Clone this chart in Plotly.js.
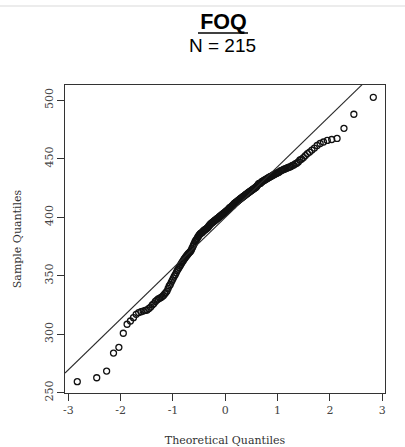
<!DOCTYPE html>
<html>
<head>
<meta charset="utf-8">
<script src="https://cdn.plot.ly/plotly-3.0.1.min.js"></script>
<style>
  html, body { margin: 0; padding: 0; background: #ffffff; }
  #topline { position: absolute; left: 0; top: 5px; width: 405px; height: 2px; background: #ececec; }
  #chart { position: absolute; left: 0; top: 0; width: 405px; height: 447px; }
</style>
</head>
<body>
<div id="chart"></div>
<div id="topline"></div>
<script>
// ---- data ----
const chartTitle = 'FOQ';
const subTitle = 'N = 215';
const xAxisTitle = 'Theoretical Quantiles';
const yAxisTitle = 'Sample Quantiles';
const xTickVals = [-3, -2, -1, 0, 1, 2, 3];
const yTickVals = [250, 300, 350, 400, 450, 500];

const sampleQuantiles = [
  259.4, 262.8, 268.5, 283.9, 288.8, 300.8, 308.5, 311.3, 314.1, 317.0,
  318.5, 319.2, 319.8, 320.3, 320.7, 322.0, 323.2, 325.0, 326.2, 328.0,
  329.2, 330.1, 330.7, 331.4, 332.2, 333.1, 334.4, 335.6, 336.9, 339.1,
  341.2, 342.5, 344.6, 346.3, 348.0, 349.7, 351.0, 352.7, 354.4, 355.7,
  357.0, 358.3, 359.6, 360.9, 362.1, 363.0, 364.3,
  365.2, 366.2, 367.1, 368.0, 368.8, 369.6, 370.2, 370.8, 372.0, 373.5, 374.8, 376.3, 377.6,
  379.2, 380.1, 380.9, 381.8, 383.1, 383.9, 384.8, 385.6, 386.1, 386.5,
  386.9, 387.4, 388.2, 388.6, 389.1, 389.5, 389.9, 390.3, 390.8, 391.2,
  392.0, 392.9, 393.3, 394.2, 394.6, 395.0, 395.5, 395.9, 396.3, 396.8,
  397.2, 397.6, 398.0, 398.5, 398.9, 399.3, 399.7, 400.2, 400.6, 401.0,
  401.5, 401.9, 402.3, 402.7, 403.2, 403.6, 404.0, 404.4, 404.9, 405.3,
  405.7, 406.2, 406.6, 407.4, 407.9, 408.3, 408.7, 409.1, 409.6, 410.0,
  410.4, 411.3, 411.7, 412.1, 412.6, 413.0, 413.4, 413.8, 414.3, 414.7,
  415.1, 415.6, 416.0, 416.4, 416.8, 417.3, 417.7, 418.1, 418.5, 419.0,
  419.4, 419.8, 420.3, 420.7, 421.1, 421.5, 422.0, 422.4, 422.8, 423.2,
  423.7, 424.1, 424.5, 425.0, 425.4, 425.8, 426.7, 427.5, 428.4, 428.8,
  428.9, 429.2, 430.1, 430.5, 430.9, 431.4, 431.8, 432.2, 432.6, 433.1,
  433.5, 433.9, 434.4, 434.8, 435.2, 435.6, 436.1, 436.5, 436.9, 437.4,
  437.8, 438.2, 438.6, 439.5, 439.9, 440.3, 440.8, 441.2, 441.6, 442.1,
  442.5, 442.9, 443.3, 444.2, 444.6, 445.5, 446.1, 447.2, 448.9, 449.7,
  451.0, 452.7, 454.4, 455.7, 457.4, 459.1, 461.3, 463.0, 464.3, 465.6,
  466.4, 467.3, 476.0, 488.0, 502.5
];

// ---- normal quantile function (Acklam) ----
function qnorm(p) {
  const a = [-3.969683028665376e+01, 2.209460984245205e+02, -2.759285104469687e+02, 1.383577518672690e+02, -3.066479806614716e+01, 2.506628277459239e+00];
  const b = [-5.447609879822406e+01, 1.615858368580409e+02, -1.556989798598866e+02, 6.680131188771972e+01, -1.328068155288572e+01];
  const c = [-7.784894002430293e-03, -3.223964580411365e-01, -2.400758277161838e+00, -2.549732539343734e+00, 4.374664141464968e+00, 2.938163982698783e+00];
  const d = [7.784695709041462e-03, 3.224671290700398e-01, 2.445134137142996e+00, 3.754408661907416e+00];
  const pl = 0.02425, ph = 1 - pl;
  let q, r;
  if (p < pl) {
    q = Math.sqrt(-2 * Math.log(p));
    return (((((c[0]*q+c[1])*q+c[2])*q+c[3])*q+c[4])*q+c[5]) / ((((d[0]*q+d[1])*q+d[2])*q+d[3])*q+1);
  } else if (p <= ph) {
    q = p - 0.5; r = q * q;
    return (((((a[0]*r+a[1])*r+a[2])*r+a[3])*r+a[4])*r+a[5])*q / (((((b[0]*r+b[1])*r+b[2])*r+b[3])*r+b[4])*r+1);
  } else {
    q = Math.sqrt(-2 * Math.log(1 - p));
    return -(((((c[0]*q+c[1])*q+c[2])*q+c[3])*q+c[4])*q+c[5]) / ((((d[0]*q+d[1])*q+d[2])*q+d[3])*q+1);
  }
}

const n = sampleQuantiles.length;
const ys = sampleQuantiles.slice().sort((u, v) => u - v);
// R ppoints for n > 10
const theoretical = ys.map((_, i) => qnorm((i + 1 - 0.5) / n));

// R quantile type 7
function quantile7(sorted, p) {
  const h = (sorted.length - 1) * p;
  const lo = Math.floor(h), hi = Math.ceil(h);
  return sorted[lo] + (h - lo) * (sorted[hi] - sorted[lo]);
}
const q1 = quantile7(ys, 0.25), q3 = quantile7(ys, 0.75);
const z1 = qnorm(0.25), z3 = qnorm(0.75);
const slope = (q3 - q1) / (z3 - z1);
const intercept = q1 - slope * z1;

const xRange = [-3.065, 3.054];
const yRange = [249.75, 513];
const lineX = [xRange[0], xRange[1]];
const lineY = lineX.map(x => intercept + slope * x);

const serif = '"DejaVu Serif", serif';

const traces = [
  {
    x: theoretical, y: ys, type: 'scatter', mode: 'markers',
    marker: { symbol: 'circle-open', size: 6, color: '#111111', line: { width: 1.3, color: '#111111' } },
    hoverinfo: 'x+y', showlegend: false
  },
  {
    x: lineX, y: lineY, type: 'scatter', mode: 'lines',
    line: { color: '#2a2a2a', width: 1.1 }, hoverinfo: 'skip', showlegend: false
  }
];

const layout = {
  width: 405, height: 447,
  paper_bgcolor: '#ffffff', plot_bgcolor: '#ffffff',
  margin: { l: 65, r: 20, t: 85, b: 54 },
  title: {
    text: '<b>' + chartTitle + '</b>',
    font: { family: '"Liberation Sans", Arial, sans-serif', size: 21.5, color: '#000000' },
    x: 223.5 / 405, xref: 'container', xanchor: 'center',
    y: 1 - 21 / 447, yref: 'container', yanchor: 'middle'
  },
  annotations: [
    {
      text: subTitle, xref: 'paper', yref: 'paper',
      x: (222 - 65) / 320, y: 1 + (85 - 46) / 308,
      xanchor: 'center', yanchor: 'middle', showarrow: false,
      font: { family: '"Liberation Sans", Arial, sans-serif', size: 19, color: '#000000' }
    }
  ],
  shapes: [
    {
      type: 'line', xref: 'paper', yref: 'paper',
      x0: (198 - 65) / 320, x1: (248 - 65) / 320,
      y0: 1 + (85 - 33) / 308, y1: 1 + (85 - 33) / 308,
      line: { color: '#000000', width: 1.3 }
    }
  ],
  xaxis: {
    range: xRange, tickvals: xTickVals, ticktext: xTickVals.map(String),
    showgrid: false, zeroline: false, showline: true, mirror: true,
    linecolor: '#333333', linewidth: 1,
    ticks: 'outside', ticklen: 7, tickwidth: 1, tickcolor: '#333333',
    tickfont: { family: serif, size: 11, color: '#444444' },
    title: { text: xAxisTitle, font: { family: serif, size: 11, color: '#333333' }, standoff: 25 },
    automargin: false
  },
  yaxis: {
    range: yRange, tickvals: yTickVals, ticktext: yTickVals.map(String),
    showgrid: false, zeroline: false, showline: true, mirror: true,
    linecolor: '#333333', linewidth: 1,
    ticks: 'outside', ticklen: 7, tickwidth: 1, tickcolor: '#333333',
    tickangle: -90,
    tickfont: { family: serif, size: 11, color: '#444444' },
    title: { text: yAxisTitle, font: { family: serif, size: 11, color: '#333333' }, standoff: 18 },
    automargin: false
  }
};

Plotly.newPlot('chart', traces, layout, { displayModeBar: false, staticPlot: true });
</script>
</body>
</html>
